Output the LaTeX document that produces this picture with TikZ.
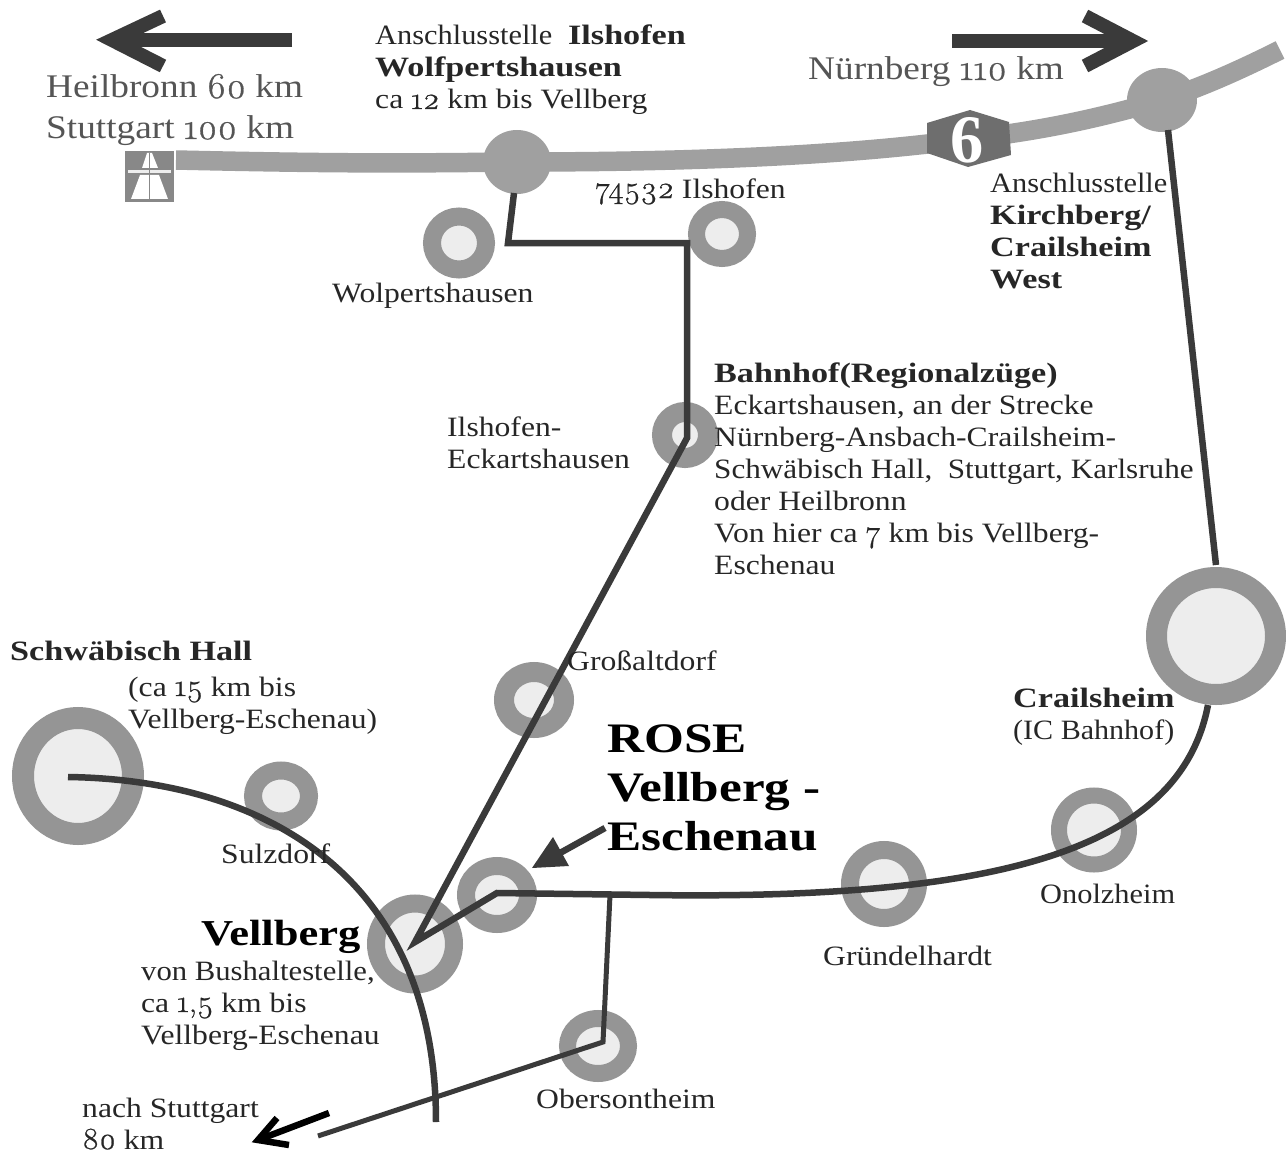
\documentclass[tikz,border=0pt]{standalone}
\usepackage{graphicx}
\usepackage{fontspec}
\setmainfont{Liberation Serif}[FakeStretch=1.13,BoldFeatures={FakeStretch=1.22}]
\newfontfamily\oldnum{Latin Modern Roman}[Numbers=OldStyle,FakeBold=0.8,Scale=1.1,FakeStretch=1.04]
\newcommand{\ON}[1]{{\oldnum #1}}
\newcommand{\AS}{\scalebox{0.96}[1]{Anschlusstelle}}
\usetikzlibrary{shapes.geometric}
\definecolor{ringgray}{HTML}{959595}
\definecolor{roadgray}{HTML}{A0A0A0}
\definecolor{innergray}{HTML}{EDEDED}
\definecolor{linedark}{HTML}{3A3A3A}
\definecolor{textdark}{HTML}{262626}
\definecolor{textsoft}{HTML}{555555}
\definecolor{signgray}{HTML}{888888}
\definecolor{hexgray}{HTML}{6E6E6E}
\tikzset{
  x=1pt,y=-1pt,
  town/.style n args={3}{ellipse,draw=ringgray,fill=innergray,inner sep=0pt,line width=#3,minimum width=#1,minimum height=#2},
  junction/.style n args={2}{ellipse,fill=roadgray,inner sep=0pt,minimum width=#1,minimum height=#2},
  link/.style={draw=linedark,line width=6.5pt,line join=miter},
  thinlink/.style={draw=linedark,line width=5pt,line join=miter},
  bigarrow/.style={draw=linedark,line width=14pt,line join=miter},
  lab/.style={anchor=base west,inner sep=0pt,align=left,text=textdark,font=\fontsize{28}{32}\selectfont},
  soft/.style={anchor=base west,inner sep=0pt,align=left,text=textsoft,font=\fontsize{33}{41}\selectfont},
}
\begin{document}
\begin{tikzpicture}
\useasboundingbox (0,0) rectangle (1286,1153);
% motorway
\coordinate (m0) at (176,160);
\coordinate (m1) at (1280,50);
\coordinate (hexc) at (968,139);
\node[junction={68pt}{64pt}] (j1) at (517,162) {};
\node[junction={70pt}{64pt}] (j2) at (1162,100) {};
\draw[roadgray,line width=19.5pt] (m0) .. controls (350,164) and (420,163) .. (j1.center)
  .. controls (700,162) and (850,155) .. (hexc)
  .. controls (1050,130) and (1110,115) .. (j2.center)
  .. controls (1200,88) and (1240,70) .. (m1);
% autobahn sign
\fill[signgray] (125,151) rectangle (174,202);
\fill[white] (131,199) -- (140,175) -- (159,175) -- (168,199) -- cycle;
\fill[white] (142,168) -- (147,153) -- (152,153) -- (158,168) -- cycle;
\fill[innergray] (128,170) rectangle (171,173);
\draw[signgray,line width=1.5pt] (149.5,153) -- (149.5,199);
% hexagon
\fill[hexgray] (927,123) -- (970,110) -- (1009,122) -- (1011,155) -- (968,167) -- (927,153) -- cycle;
\node[inner sep=0pt,text=white,font=\fontsize{68}{68}\selectfont\bfseries] (six) at (967,140) {\scalebox{0.8}[1]{6}};
% towns
\node[town={54pt}{53pt}{18pt}] (wolp) at (459,243) {};
\node[town={51pt}{49pt}{17pt}] (ilsh) at (722,234) {};
\node[town={46pt}{46pt}{20pt}] (eck) at (685,435) {};
\node[town={60pt}{56pt}{20pt}] (gross) at (534,700) {};
\node[town={56pt}{51pt}{18pt}] (sulz) at (281,796) {};
\node[town={110pt}{116pt}{22pt}] (hall) at (78,776) {};
\node[town={78pt}{81pt}{18pt}] (vell) at (415,944) {};
\node[town={62pt}{58pt}{18pt}] (esch) at (497,895) {};
\node[town={61pt}{55pt}{17pt}] (ober) at (598,1046) {};
\node[town={68pt}{68pt}{18pt}] (gruen) at (884,884) {};
\node[town={70pt}{69pt}{16pt}] (onol) at (1094,830) {};
\node[town={119pt}{117pt}{21pt}] (crail) at (1216,636) {};
% connectors
\coordinate (b1) at (514,193);
\coordinate (b2) at (508,243);
\coordinate (b3) at (687,243);
\coordinate (e1) at (687,438);
\coordinate (v1) at (415,942);
\coordinate (e2) at (497,893);
\coordinate (e3) at (650,895);
\coordinate (c1) at (1208,705);
\coordinate (c2) at (1168,130);
\coordinate (c3) at (1216,565);
\coordinate (h1) at (68,777);
\coordinate (h2) at (436,1122);
\coordinate (o1) at (610,895);
\coordinate (o2) at (603,1042);
\coordinate (o3) at (318,1136);
\draw[link] (b1) -- (b2) -- (b3) -- (e1) -- (v1) -- (e2) -- (e3)
  .. controls (1000,900) and (1180,850) .. (c1);
\draw[link] (c2) -- (c3);
\draw[link] (h1) .. controls (270,780) and (436,880) .. (h2);
\draw[thinlink] (o1) -- (o2) -- (o3);
% big arrows
\coordinate (la0) at (292,40);
\coordinate (la1) at (112,40);
\coordinate (la2) at (163,16);
\coordinate (la3) at (163,66);
\draw[bigarrow] (la0) -- (la1);
\draw[bigarrow] (la2) -- (la1) -- (la3);
\coordinate (ra0) at (952,41);
\coordinate (ra1) at (1133,41);
\coordinate (ra2) at (1085,16);
\coordinate (ra3) at (1085,66);
\draw[bigarrow] (ra0) -- (ra1);
\draw[bigarrow] (ra2) -- (ra1) -- (ra3);
% ROSE arrow
\coordinate (ro0) at (605,828);
\coordinate (ro1) at (560,853);
\draw[link] (ro0) -- (ro1);
\fill[linedark] (532,868) -- (553,837) -- (569,866) -- cycle;
% Stuttgart arrow
\coordinate (st0) at (329,1113);
\coordinate (st1) at (258,1140);
\coordinate (st2) at (277,1118);
\coordinate (st3) at (289,1145);
\draw[draw=black,line width=6.5pt] (st0) -- (st1);
\draw[draw=black,line width=6.5pt] (st2) -- (st1) -- (st3);
% labels
\node[soft] (t1) at (46,139) {Heilbronn \ON{60} km\\Stuttgart \ON{100} km};
\node[lab] (t2) at (375,109) {\AS\ \ \textbf{Ilshofen}\\\textbf{Wolfpertshausen}\\ca \ON{12} km bis Vellberg};
\node[soft] (t3) at (808,80) {Nürnberg \ON{110} km};
\node[lab] (t4) at (595,198) {\ON{74532} Ilshofen};
\node[lab] (t5) at (332,302) {Wolpertshausen};
\node[lab] (t6) at (990,288) {\AS\\\textbf{Kirchberg/}\\\textbf{Crailsheim}\\\textbf{West}};
\node[lab] (t7) at (714,574) {\textbf{Bahnhof(Regionalzüge)}\\Eckartshausen, an der Strecke\\Nürnberg-Ansbach-Crailsheim-\\\scalebox{0.985}[1]{Schwäbisch Hall,\ \ Stuttgart, Karlsruhe}\\oder Heilbronn\\Von hier ca \ON{7} km bis Vellberg-\\Eschenau};
\node[lab] (t8) at (447,468) {Ilshofen-\\Eckartshausen};
\node[lab] (t9) at (567,670) {Großaltdorf};
\node[lab] (t10) at (10,660) {\textbf{Schwäbisch Hall}};
\node[lab] (t11) at (128,728) {(ca \ON{15} km bis\\Vellberg-Eschenau)};
\node[lab] (t12) at (1013,739) {\textbf{Crailsheim}\\\scalebox{0.95}[1]{(IC Bahnhof)}};
\node[lab,text=black,font=\fontsize{42}{49}\selectfont\bfseries] (t13) at (607,850) {ROSE\\Vellberg -\\Eschenau};
\node[lab] (t14) at (221,863) {Sulzdorf};
\node[lab,text=black,font=\fontsize{36.5}{38}\selectfont\bfseries] (t15) at (201,945) {Vellberg};
\node[lab] (t16) at (141,1044) {\scalebox{0.97}[1]{von Bushaltestelle,}\\ca \ON{1,5} km bis\\Vellberg-Eschenau};
\node[lab] (t17) at (823,965) {Gründelhardt};
\node[lab] (t18) at (1040,903) {\scalebox{0.96}[1]{Onolzheim}};
\node[lab] (t19) at (536,1108) {Obersontheim};
\node[lab] (t20) at (82,1149) {nach Stuttgart\\\ON{80} km};
\end{tikzpicture}
\end{document}
